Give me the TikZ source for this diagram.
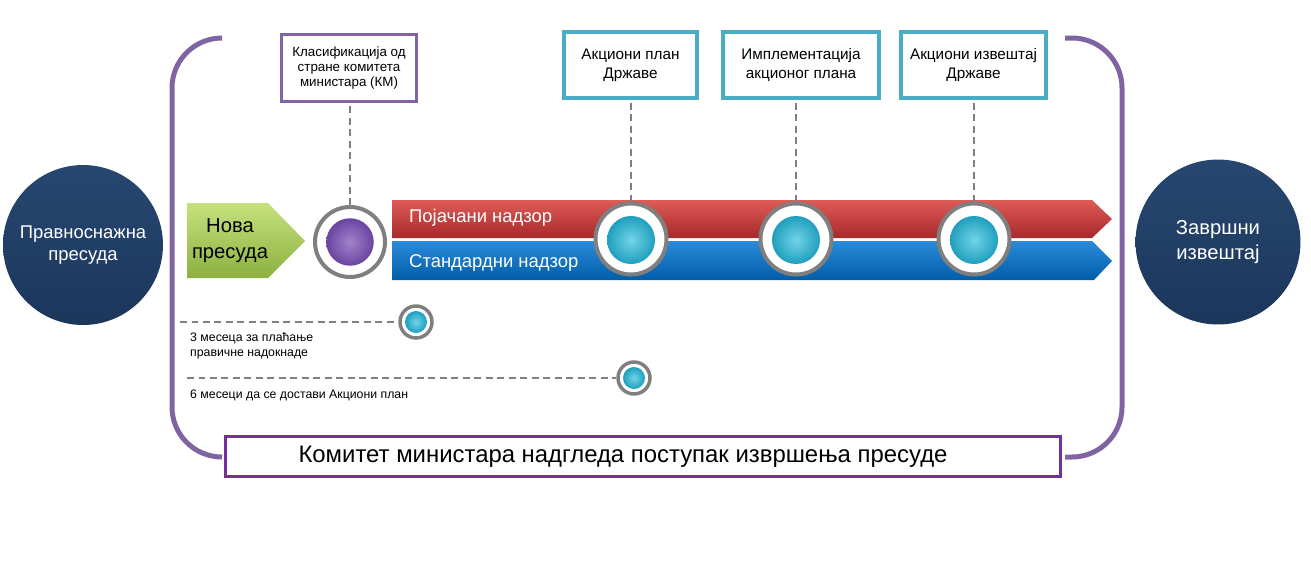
\documentclass[tikz,border=0pt]{standalone}
\usepackage{fontspec}
\setmainfont{Liberation Sans}
\usepackage{xcolor}
\usetikzlibrary{calc, shapes.geometric, positioning}

\definecolor{plavagore}{HTML}{274770}
\definecolor{plavadole}{HTML}{1C365C}
\definecolor{ljubicasta}{HTML}{8064A2}
\definecolor{tamnoljub}{HTML}{7030A0}
\definecolor{tirkizna}{HTML}{4BACC6}
\definecolor{zelenagore}{HTML}{C6E27E}
\definecolor{zelenadole}{HTML}{8CB040}
\definecolor{crvenagore}{HTML}{DE5B56}
\definecolor{crvenadole}{HTML}{A8292B}
\definecolor{modragore}{HTML}{2B8BD9}
\definecolor{modradole}{HTML}{005DAA}
\definecolor{prstensiva}{HTML}{7F7F7F}
\definecolor{kuglaunutra}{HTML}{72D4E8}
\definecolor{kuglaspolja}{HTML}{1F9FBD}
\definecolor{ljubunutra}{HTML}{A283CC}
\definecolor{ljubspolja}{HTML}{6A44A0}

\tikzset{
    krug/.style={circle, top color=plavagore, bottom color=plavadole,
        text=white, align=center},
    prsten/.style={circle, draw=prstensiva, line width=0.08cm, fill=white,
        minimum size=1.42cm, inner sep=0pt},
    malprsten/.style={circle, draw=prstensiva, line width=0.07cm, fill=white,
        minimum size=0.64cm, inner sep=0pt},
    kugla/.style={circle, inner color=kuglaunutra, outer color=kuglaspolja,
        minimum size=0.96cm, inner sep=0pt},
    malkugla/.style={circle, inner color=kuglaunutra, outer color=kuglaspolja,
        minimum size=0.44cm, inner sep=0pt},
    tirkizkutija/.style={draw=tirkizna, line width=0.08cm, fill=white,
        minimum height=1.32cm, align=center, font=\fontsize{8.7}{10.8}\selectfont},
    veza/.style={draw=prstensiva, line width=0.03cm, dash pattern=on 0.14cm off 0.09cm},
    traka/.style={text=white, anchor=west, font=\fontsize{10.5}{12}\selectfont},
    sitno/.style={anchor=west, align=left, font=\fontsize{7}{8.6}\selectfont}
}

\begin{document}
\begin{tikzpicture}[x=0.02cm, y=-0.02cm]
    \useasboundingbox (0,0) rectangle (1311,565);

    % okvir
    \draw[ljubicasta, line width=0.1cm, rounded corners=1cm]
        (222,38) -- (172,38) -- (172,457) -- (222,457);
    \draw[ljubicasta, line width=0.1cm, rounded corners=1cm]
        (1065,38) -- (1122,38) -- (1122,457) -- (1065,457);
    \node[draw=tamnoljub, line width=0.06cm, fill=white,
        minimum width=16.72cm, minimum height=0.8cm] (kmokvir) at (643,456) {};
    \node[font=\fontsize{13.6}{16}\selectfont] (kmtekst) at (623,457)
        {Комитет министара надгледа поступак извршења пресуде};

    % pocetak i kraj
    \node[krug, minimum size=3.2cm, font=\fontsize{10.5}{12.5}\selectfont]
        (pravno) at (83,245) {Правноснажна\\пресуда};
    \node[krug, minimum size=3.3cm, font=\fontsize{11.5}{14}\selectfont]
        (zavrsni) at (1218,242) {Завршни\\извештај};

    % nova presuda
    \path[top color=zelenagore, bottom color=zelenadole]
        (187,203) -- (268,203) -- (305,241) -- (268,278) -- (187,278) -- cycle;
    \node[align=center, font=\fontsize{11.5}{14.7}\selectfont] (nova) at (230,241)
        {Нова\\пресуда};

    % trake nadzora
    \path[top color=crvenagore, bottom color=crvenadole]
        (392,200) -- (1092,200) -- (1112,219) -- (1092,238) -- (392,238) -- cycle;
    \path[top color=modragore, bottom color=modradole]
        (392,241) -- (1092,241) -- (1112,261) -- (1094,280) -- (392,280) -- cycle;
    \node[traka] (pojacani) at (403,218) {Појачани надзор};
    \node[traka] (standardni) at (403,263) {Стандардни надзор};

    % klasifikacija KM
    \node[prsten, minimum size=1.4cm] (pkm) at (350,242) {};
    \node[circle, inner color=ljubunutra, outer color=ljubspolja,
        minimum size=0.95cm, inner sep=0pt] (kkm) at (350,242) {};
    \node[draw=ljubicasta, line width=0.06cm, fill=white, minimum width=2.7cm,
        minimum height=1.36cm, align=center, font=\fontsize{7.6}{8.6}\selectfont]
        (klas) at (349,68) {Класификација од\\стране комитета\\министара (КМ)};
    \draw[veza] (pkm.north) -- (pkm.north |- klas.south);

    % faze
    \foreach \xp/\n in {631/1, 796/2, 974/3} {
        \node[prsten] (p\n) at (\xp,239) {};
        \node[kugla] (k\n) at (\xp,240) {};
    }
    \node[tirkizkutija, minimum width=2.66cm] (akcplan) at (630.5,65)
        {Акциони план\\Државе};
    \node[tirkizkutija, minimum width=3.12cm] (impl) at (801,65)
        {Имплементација\\акционог плана};
    \node[tirkizkutija, minimum width=2.9cm] (akcizv) at (973.5,65)
        {Акциони извештај\\Државе};
    \draw[veza] (p1.north) -- (p1.north |- akcplan.south);
    \draw[veza] (p2.north) -- (p2.north |- impl.south);
    \draw[veza] (p3.north) -- (p3.north |- akcizv.south);

    % rokovi
    \node[malprsten] (mp1) at (416,322) {};
    \node[malkugla] (mk1) at (416,322) {};
    \node[malprsten] (mp2) at (634,378) {};
    \node[malkugla] (mk2) at (634,378) {};
    \coordinate (t1) at (180,322);
    \coordinate (t2) at (187,378);
    \draw[veza] (t1) -- (mp1.west);
    \draw[veza] (t2) -- (mp2.west);
    \node[sitno] (rok1) at (184,346) {3 месеца за плаћање\\правичне надокнаде};
    \node[sitno] (rok2) at (184,395) {6 месеци да се достави Акциони план};
\end{tikzpicture}
\end{document}
